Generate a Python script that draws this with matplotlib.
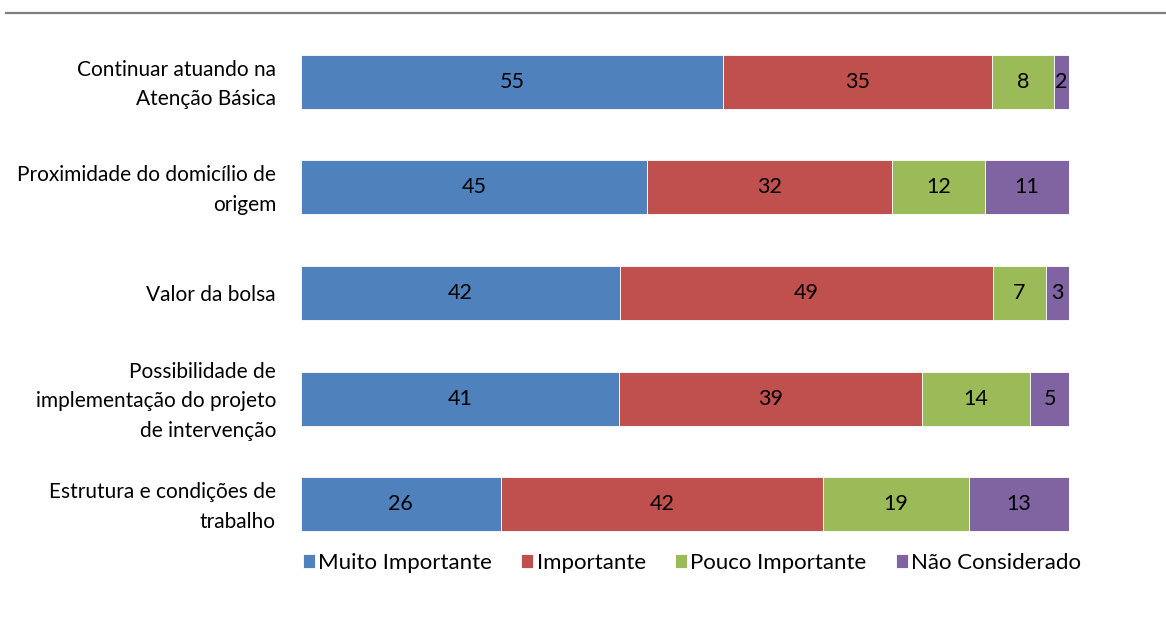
import numpy as np
import matplotlib.pyplot as plt
from matplotlib.lines import Line2D
from matplotlib.transforms import ScaledTranslation

plt.rcParams['font.family'] = ['Lato', 'DejaVu Sans']

categories = ["Continuar atuando na\nAtenção Básica",
              "Proximidade do domicílio de\norigem",
              "Valor da bolsa",
              "Possibilidade de\nimplementação do projeto\nde intervenção",
              "Estrutura e condições de\ntrabalho"]
series = ["Muito Importante", "Importante", "Pouco Importante", "Não Considerado"]
muito = [55, 45, 42, 41, 26]
importante = [35, 32, 49, 39, 42]
pouco = [8, 12, 7, 14, 19]
nao = [2, 11, 3, 5, 13]
colors = ["#4F81BD", "#C0504D", "#9BBB59", "#8064A2"]

vals = np.array([muito, importante, pouco, nao], dtype=float)
tot = vals.sum(axis=0)
pct = vals / tot * 100

fig = plt.figure(figsize=(11.66, 6.22), dpi=100)
ax = fig.add_axes([301/1166, 1 - 557/622, 768/1166, 528/622])

y = np.arange(len(categories))
left = np.zeros(len(categories))
for i, name in enumerate(series):
    bars = ax.barh(y, pct[i], left=left, height=0.51, color=colors[i],
                   edgecolor='white', linewidth=0.6, label=name)
    for j, b in enumerate(bars):
        ax.text(left[j] + pct[i][j] / 2, y[j], "%d" % vals[i][j],
                ha='center', va='center', fontsize=15.5, color='black')
    left += pct[i]

ax.set_xlim(0, 100)
ax.set_ylim(4.5, -0.5)
ax.set_yticks(y)
ax.set_yticklabels(categories, fontsize=15, linespacing=1.6)
ax.tick_params(axis='y', length=0, pad=18)
ax.set_xticks([])
for s in ax.spines.values():
    s.set_visible(False)

# nudge the multi-line labels up a little
for lbl in ax.get_yticklabels():
    if "\n" in lbl.get_text():
        lbl.set_transform(lbl.get_transform() +
                          ScaledTranslation(0, 4/100, fig.dpi_scale_trans))

fig.add_artist(Line2D([6/1166, 1], [1 - 12.5/622] * 2, color='#7f7f7f', lw=1.6))

fig.legend(loc='center', bbox_to_anchor=(692/1166, 1 - 563/622), ncol=4,
           frameon=False, fontsize=16, handlelength=0.55, handleheight=0.55,
           handletextpad=0.15, columnspacing=1.3)

fig.savefig("out.png", dpi=100)
